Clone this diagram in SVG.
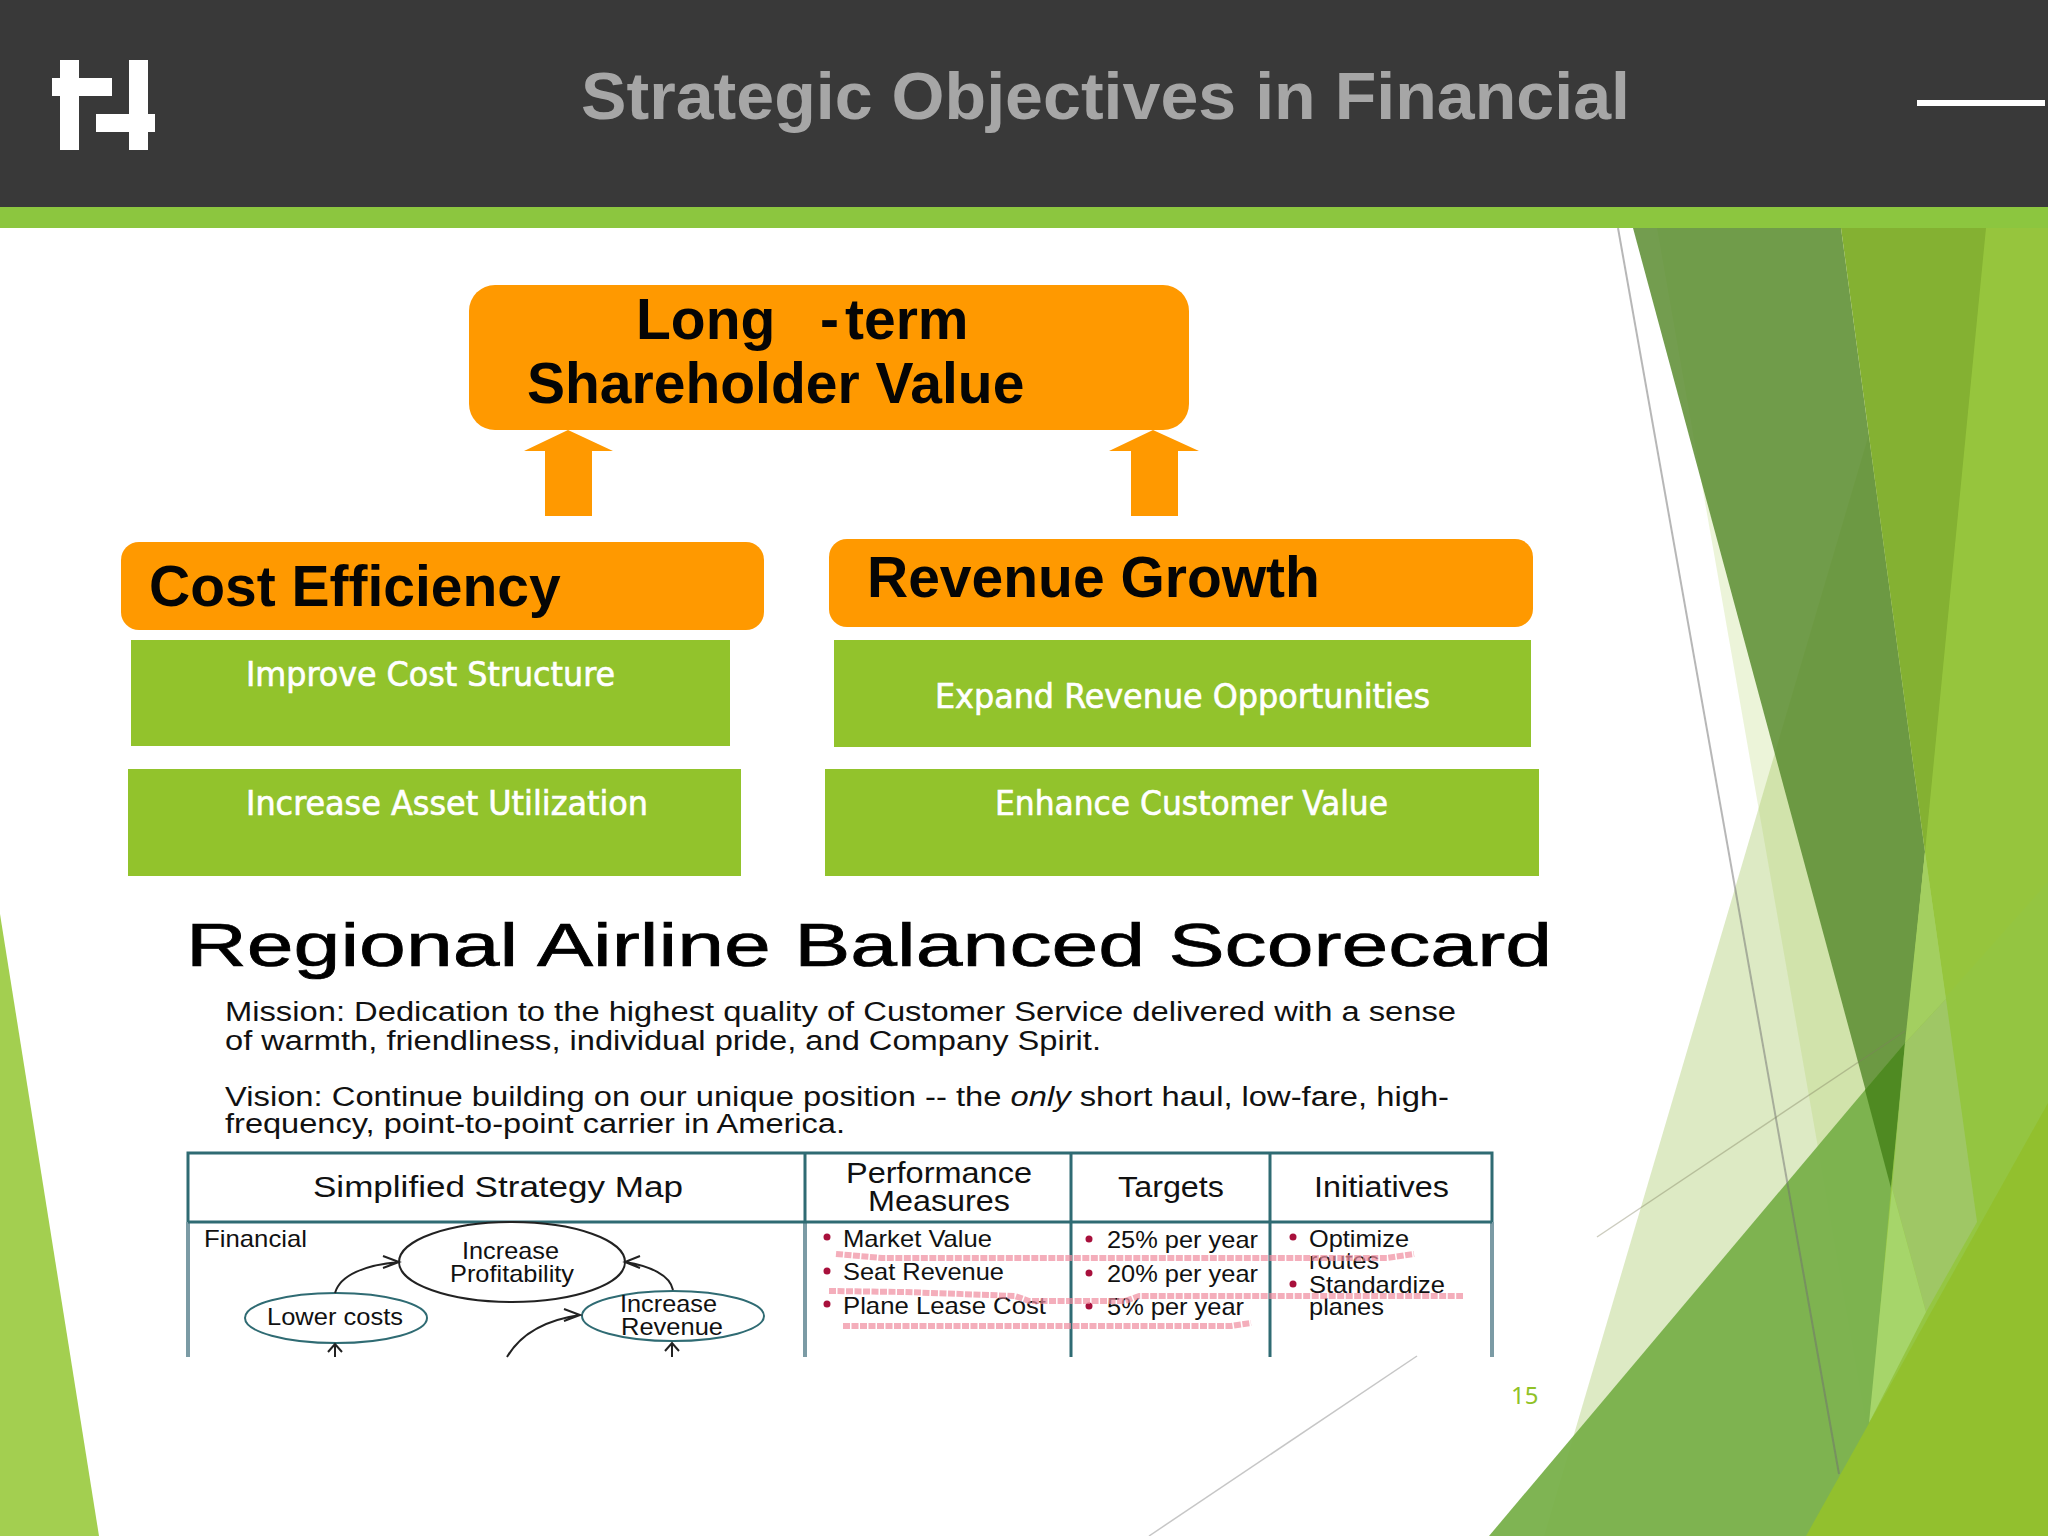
<svg xmlns="http://www.w3.org/2000/svg" width="2048" height="1536" viewBox="0 0 2048 1536">
<style>
.h{font-family:"Liberation Sans",Arial,sans-serif;font-weight:700;fill:#050505;font-size:57px}
.g{font-family:"DejaVu Sans Condensed","DejaVu Sans",sans-serif;font-stretch:condensed;fill:#fff;stroke:#fff;stroke-width:.6;font-size:33px}
.s{font-family:"Liberation Sans",Arial,sans-serif;fill:#111;font-size:24px}
.o{fill:#ff9900}
.b{fill:#92c32c}
.t{fill:none;stroke:#2f6b73;stroke-width:3}
.l{fill:none;stroke:#7b9ba5;stroke-width:4}
.m{fill:#fff;stroke:#222;stroke-width:2}
.e{fill:#fff;stroke:#2f6b73;stroke-width:2}
.a{fill:none;stroke:#222;stroke-width:2}
.r{fill:none;stroke:#f08c9e;stroke-width:6;stroke-opacity:.7;stroke-linejoin:round;stroke-dasharray:7 1.5}
.d{fill:#a8103c}
</style>
<rect width="2048" height="1536" fill="#fff"/>
<g id="background">
<polygon points="0,914 99,1536 0,1536" fill="#a3cf50"/>
<polygon points="1544,1536 1869,434 1950,1000 1900,1536" fill="#8fb93a" fill-opacity=".3"/>
<polygon points="1657,228 1841,228 1925,852 1891,1188 1886,1536" fill="#a8cf50" fill-opacity=".22"/>
<polygon points="1633,228 1841,228 1925,852 1892,1188" fill="#5a8c30" fill-opacity=".85"/>
<polygon points="1841,228 2048,228 2048,1536 2023,1536 1977,1222 1925,852" fill="#84b132"/>
<polygon points="1489,1536 1865,1090 1905,1043 2048,882 2048,1536" fill="#78b04a" fill-opacity=".95"/>
<polygon points="1865,1090 1905,1043 1891,1188" fill="#4f8a22"/>
<polygon points="1986,228 2048,228 2048,1536 1860,1536 1891,1188 1925,852" fill="#9bcb40" fill-opacity=".8"/>
<polygon points="1925,852 1946,999 1905,1043" fill="#a3cf60"/>
<polygon points="1946,999 1977,1222 1926,1312 1892,1188 1905,1043" fill="#9fc765"/>
<polygon points="1892,1188 1926,1312 1869,1423" fill="#a6d56a"/>
<polygon points="1806,1536 2048,1103 2048,1536" fill="#92c02e"/>
<line x1="1618" y1="228" x2="1839" y2="1474" stroke="#707070" stroke-opacity=".5" stroke-width="2"/>
<line x1="1597" y1="1237" x2="1905" y2="1031" stroke="#808060" stroke-opacity=".4" stroke-width="1.5"/>
<line x1="1149" y1="1536" x2="1417" y2="1356" stroke="#a0a0a0" stroke-opacity=".6" stroke-width="1.5"/>
</g>
<g id="header">
<rect width="2048" height="207" fill="#393939"/>
<rect y="207" width="2048" height="21" fill="#8cc63f"/>
<g id="logo" fill="#fff">
<rect x="60" y="60" width="19" height="90"/><rect x="52" y="78" width="60" height="18"/>
<rect x="129" y="60" width="19" height="90"/><rect x="96" y="114" width="59" height="18"/>
</g>
<text x="581" y="119" font-family="'Liberation Sans',Arial,sans-serif" font-weight="700" font-size="66" fill="#a6a6a6" textLength="1049" lengthAdjust="spacingAndGlyphs">Strategic Objectives in Financial</text>
<rect x="1917" y="100" width="128" height="6" fill="#fff"/>
</g>
<g id="node-shareholder">
<rect class="o" x="469" y="285" width="720" height="145" rx="26"/>
<text class="h" x="636" y="339">Long</text><text class="h" x="820" y="339">-</text><text class="h" x="845" y="339">term</text>
<text class="h" x="527" y="403">Shareholder Value</text>
</g>
<g id="connectors">
<polygon class="o" points="568,430 613,451 592,451 592,516 545,516 545,451 524,451"/>
<polygon class="o" points="1153,430 1199,451 1178,451 1178,516 1131,516 1131,451 1109,451"/>
</g>
<g id="node-cost"><rect class="o" x="121" y="542" width="643" height="88" rx="18"/><text class="h" x="149" y="606">Cost Efficiency</text></g>
<g id="node-revenue"><rect class="o" x="829" y="539" width="704" height="88" rx="18"/><text class="h" x="867" y="597">Revenue Growth</text></g>
<g id="node-improve"><rect class="b" x="131" y="640" width="599" height="106"/><text class="g" x="246" y="686" textLength="369" lengthAdjust="spacingAndGlyphs">Improve Cost Structure</text></g>
<g id="node-asset"><rect class="b" x="128" y="769" width="613" height="107"/><text class="g" x="246" y="815" textLength="402" lengthAdjust="spacingAndGlyphs">Increase Asset Utilization</text></g>
<g id="node-expand"><rect class="b" x="834" y="640" width="697" height="107"/><text class="g" x="935" y="708" textLength="495" lengthAdjust="spacingAndGlyphs">Expand Revenue Opportunities</text></g>
<g id="node-enhance"><rect class="b" x="825" y="769" width="714" height="107"/><text class="g" x="995" y="815" textLength="393" lengthAdjust="spacingAndGlyphs">Enhance Customer Value</text></g>
<g id="scorecard">
<text x="186" y="966" font-family="'Liberation Sans',Arial,sans-serif" font-size="62" fill="#000" stroke="#000" stroke-width=".7" textLength="1366" lengthAdjust="spacingAndGlyphs">Regional Airline Balanced Scorecard</text>
<g class="s" style="font-size:27px">
<text x="225" y="1021" textLength="1231" lengthAdjust="spacingAndGlyphs">Mission: Dedication to the highest quality of Customer Service delivered with a sense</text>
<text x="225" y="1050" textLength="876" lengthAdjust="spacingAndGlyphs">of warmth, friendliness, individual pride, and Company Spirit.</text>
<text x="225" y="1106" textLength="1224" lengthAdjust="spacingAndGlyphs">Vision: Continue building on our unique position -- the <tspan font-style="italic">only</tspan> short haul, low-fare, high-</text>
<text x="225" y="1133" textLength="620" lengthAdjust="spacingAndGlyphs">frequency, point-to-point carrier in America.</text>
</g>
<path class="l" d="M188 1222V1357M805 1222V1357M1492 1222V1357"/>
<path class="t" d="M188 1222V1153H1492V1222M805 1153V1222M1071 1153V1357M1270 1153V1357M188 1222H1492"/>
<g class="s">
<text x="313" y="1197" textLength="370" lengthAdjust="spacingAndGlyphs" style="font-size:30px">Simplified Strategy Map</text>
<text x="846" y="1183" textLength="186" lengthAdjust="spacingAndGlyphs" style="font-size:30px">Performance</text>
<text x="868" y="1211" textLength="142" lengthAdjust="spacingAndGlyphs" style="font-size:30px">Measures</text>
<text x="1118" y="1197" textLength="106" lengthAdjust="spacingAndGlyphs" style="font-size:30px">Targets</text>
<text x="1314" y="1197" textLength="135" lengthAdjust="spacingAndGlyphs" style="font-size:30px">Initiatives</text>
<text x="204" y="1247" textLength="103" lengthAdjust="spacingAndGlyphs">Financial</text>
<text x="843" y="1247" textLength="149" lengthAdjust="spacingAndGlyphs">Market Value</text>
<text x="843" y="1280" textLength="161" lengthAdjust="spacingAndGlyphs">Seat Revenue</text>
<text x="843" y="1314" textLength="203" lengthAdjust="spacingAndGlyphs">Plane Lease Cost</text>
<text x="1107" y="1248" textLength="151" lengthAdjust="spacingAndGlyphs">25% per year</text>
<text x="1107" y="1282" textLength="151" lengthAdjust="spacingAndGlyphs">20% per year</text>
<text x="1107" y="1315" textLength="137" lengthAdjust="spacingAndGlyphs">5% per year</text>
<text x="1309" y="1247" textLength="100" lengthAdjust="spacingAndGlyphs">Optimize</text>
<text x="1309" y="1269" textLength="70" lengthAdjust="spacingAndGlyphs">routes</text>
<text x="1309" y="1293" textLength="136" lengthAdjust="spacingAndGlyphs">Standardize</text>
<text x="1309" y="1315" textLength="75" lengthAdjust="spacingAndGlyphs">planes</text>
</g>
<circle class="d" cx="827" cy="1237" r="3.5"/><circle class="d" cx="827" cy="1271" r="3.5"/><circle class="d" cx="827" cy="1304" r="3.5"/>
<circle class="d" cx="1089" cy="1239" r="3.5"/><circle class="d" cx="1089" cy="1273" r="3.5"/><circle class="d" cx="1089" cy="1306" r="3.5"/>
<circle class="d" cx="1293" cy="1237" r="3.5"/><circle class="d" cx="1293" cy="1284" r="3.5"/>
<path class="r" d="M836 1254L882 1258H1387L1414 1254"/>
<path class="r" d="M829 1291L905 1292L1015 1296L1029 1301H1125L1139 1296H1463"/>
<path class="r" d="M843 1326H1231L1251 1323"/>
<g id="node-profitability"><ellipse class="m" cx="512" cy="1262" rx="113" ry="40"/><text class="s" x="462" y="1259" textLength="97" lengthAdjust="spacingAndGlyphs">Increase</text><text class="s" x="450" y="1282" textLength="124" lengthAdjust="spacingAndGlyphs">Profitability</text></g>
<g id="node-lower"><ellipse class="e" cx="336" cy="1318" rx="91" ry="25"/><text class="s" x="267" y="1325" textLength="136" lengthAdjust="spacingAndGlyphs">Lower costs</text></g>
<g id="node-increase"><ellipse class="e" cx="673" cy="1316" rx="91" ry="25"/><text class="s" x="620" y="1312" textLength="97" lengthAdjust="spacingAndGlyphs">Increase</text><text class="s" x="621" y="1335" textLength="102" lengthAdjust="spacingAndGlyphs">Revenue</text></g>
<g id="scorecard-connectors">
<path class="a" d="M335 1293C340 1275 365 1265 399 1262M383 1256L399 1262L383 1268"/>
<path class="a" d="M673 1290C670 1275 650 1266 625 1262M640 1256L625 1262L640 1268"/>
<path class="a" d="M507 1357C520 1335 545 1320 580 1315M564 1309L580 1315L564 1321"/>
<path class="a" d="M335 1357V1344M328 1352L335 1344L342 1352"/>
<path class="a" d="M672 1357V1343M665 1351L672 1343L679 1351"/>
</g>
</g>
<text x="1511" y="1404" font-family="'Noto Sans',sans-serif" font-size="24" fill="#90c226">15</text>
</svg>
